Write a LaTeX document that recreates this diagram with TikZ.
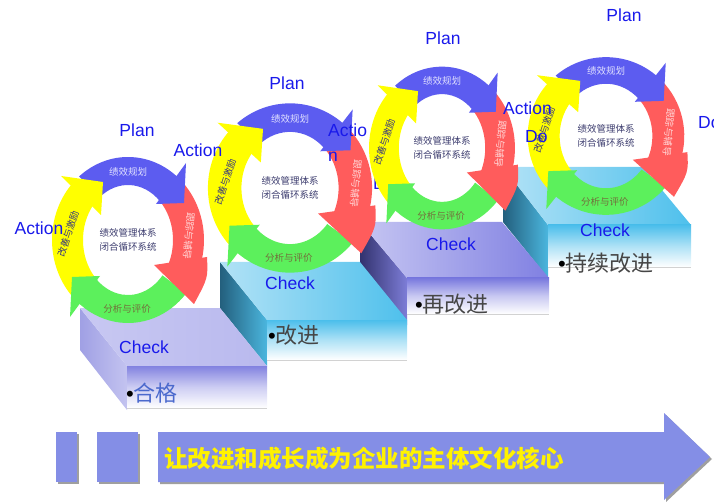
\documentclass[tikz,border=0pt]{standalone}
\usepackage{fontspec}
\setmainfont{Liberation Sans}
\newfontfamily\cjk{Noto Sans CJK SC}
\definecolor{cB}{RGB}{92,92,240}
\definecolor{cR}{RGB}{255,92,92}
\definecolor{cG}{RGB}{92,240,92}
\definecolor{cY}{RGB}{255,255,0}
\definecolor{lblue}{RGB}{25,25,235}
\definecolor{txB}{RGB}{225,225,255}
\definecolor{txR}{RGB}{255,215,215}
\definecolor{txG}{RGB}{115,110,60}
\definecolor{txY}{RGB}{55,55,125}
\definecolor{txC}{RGB}{60,60,110}
\definecolor{lavT}{RGB}{200,200,242}
\definecolor{lavT2}{RGB}{185,185,238}
\definecolor{lavF}{RGB}{130,130,224}
\definecolor{lavL1}{RGB}{160,160,228}
\definecolor{lavL2}{RGB}{195,195,240}
\definecolor{cyT1}{RGB}{178,226,246}
\definecolor{cyT2}{RGB}{78,192,236}
\definecolor{cyL1}{RGB}{35,95,125}
\definecolor{cyL2}{RGB}{75,182,222}
\definecolor{cyF}{RGB}{75,190,235}
\definecolor{puT1}{RGB}{198,198,242}
\definecolor{puT2}{RGB}{128,128,226}
\definecolor{puL1}{RGB}{50,50,110}
\definecolor{puL2}{RGB}{125,125,215}
\definecolor{puF}{RGB}{120,120,222}
\definecolor{arrC}{RGB}{132,142,230}
\definecolor{stepTx}{RGB}{70,70,70}
\definecolor{hegeTx}{RGB}{75,105,205}
\tikzset{
  lbl/.style={text=lblue, font=\fontsize{17.5}{20}\selectfont, inner sep=0pt},
  ringtx/.style={font=\cjk\fontsize{9.5}{12}\selectfont, inner sep=0pt},
  ctext/.style={font=\cjk\fontsize{9.5}{14}\selectfont, align=center, inner sep=0pt, text=txC},
  steptx/.style={font=\fontsize{22}{24}\selectfont, inner sep=0pt, anchor=west, text=stepTx},
}
\newcommand\pdcacycle[5]{%
\begin{scope}[shift={(#1,-#2)},xscale=#3,yscale=#4]
  % bodies
  \fill[cB] (130:76pt and 83pt) arc[start angle=130,end angle=48,x radius=76pt,y radius=83pt]
     -- (45:45pt and 55pt) arc[start angle=45,end angle=130,x radius=45pt,y radius=55pt] -- cycle;
  \fill[cR] (45:76pt and 83pt) arc[start angle=45,end angle=-18,x radius=76pt,y radius=83pt]
     -- (-28:45pt and 55pt) arc[start angle=-28,end angle=45,x radius=45pt,y radius=55pt] -- cycle;
  \fill[cG] (-40:76pt and 83pt) arc[start angle=-40,end angle=-132,x radius=76pt,y radius=83pt]
     -- (-135:45pt and 55pt) arc[start angle=-135,end angle=-40,x radius=45pt,y radius=55pt] -- cycle;
  \fill[cY] (222:76pt and 83pt) arc[start angle=222,end angle=135,x radius=76pt,y radius=83pt]
     -- (140:45pt and 55pt) arc[start angle=140,end angle=222,x radius=45pt,y radius=55pt] -- cycle;
  % heads
  \fill[cB] (58,77) -- (56,37) -- (28,36) -- cycle;
  \fill[cR] (26,-25) -- (79,-17) .. controls (80,-38) .. (66,-64) -- cycle;
  \fill[cG] (-58,-77) -- (-56,-37) -- (-28,-36) -- cycle;
  \fill[cY] (-67,64) -- (-25,58) -- (-27,25) -- cycle;
  % labels
  \node[ringtx, text=txB] (#5-p) at (0,68) {绩效规划};
  \node[ringtx, text=txR, rotate=-95] (#5-d) at (61,4) {跟踪与辅导};
  \node[ringtx, text=txG] (#5-c) at (-1,-69) {分析与评价};
  \node[ringtx, text=txY, rotate=72] (#5-a) at (-60,6) {改善与激励};
  \node[ctext] (#5-m) at (0,0) {绩效管理体系\\闭合循环系统};
\end{scope}}
\begin{document}
\begin{tikzpicture}[x=1pt,y=1pt]
\useasboundingbox (0,0) rectangle (714,-502);
% ---------- step 4 ----------
\shade[left color=cyL1, right color=cyL2] (503,-167) -- (548,-225) -- (548,-278) -- (503,-222) -- cycle;
\shade[left color=cyT1, right color=cyT2] (503,-167) -- (643,-167) -- (691,-225) -- (548,-225) -- cycle;
\shade[top color=cyF, bottom color=white, middle color=cyF!45] (548,-225) rectangle (691,-267);
\draw[gray!35, line width=0.6pt] (548,-267) -- (691,-267);
% ---------- step 3 ----------
\shade[left color=puL1, right color=puL2] (360,-222) -- (407,-278) -- (407,-325) -- (360,-268) -- cycle;
\shade[left color=puT1, right color=puT2] (360,-222) -- (502,-222) -- (549,-278) -- (407,-278) -- cycle;
\shade[top color=puF, bottom color=white, middle color=puF!40] (407,-278) rectangle (549,-314);
\draw[gray!35, line width=0.6pt] (407,-314) -- (549,-314);
% ---------- step 2 ----------
\shade[left color=cyL1, right color=cyL2] (220,-262) -- (267,-320) -- (267,-366) -- (220,-308) -- cycle;
\shade[left color=cyT1, right color=cyT2] (220,-262) -- (360,-262) -- (407,-320) -- (267,-320) -- cycle;
\shade[top color=cyF, bottom color=white, middle color=cyF!45] (267,-320) rectangle (407,-360);
\draw[gray!35, line width=0.6pt] (267,-360) -- (407,-360);
% ---------- step 1 ----------
\shade[left color=lavL1, right color=lavL2] (80,-308) -- (127,-366) -- (127,-410) -- (80,-350) -- cycle;
\shade[left color=lavT, right color=lavT2] (80,-308) -- (220,-308) -- (267,-366) -- (127,-366) -- cycle;
\shade[top color=lavF, bottom color=white, middle color=lavF!40] (127,-366) rectangle (267,-408);
\draw[gray!35, line width=0.6pt] (127,-408) -- (267,-408);
% step texts
\node[lbl] (chk1) at (144,-347) {Check};
\node[lbl] (chk2) at (290,-283) {Check};
\node[lbl] (chk3) at (451,-244) {Check};
\node[lbl] (chk4) at (605,-230) {Check};
\node[steptx, text=hegeTx] (s1) at (126,-393) {{\color{black}•}{\cjk 合格}};
\node[steptx] (s2) at (268,-335) {{\color{black}•}{\cjk 改进}};
\node[steptx] (s3) at (415,-304) {{\color{black}•}{\cjk 再改进}};
\node[steptx] (s4) at (558,-263) {{\color{black}•}{\cjk 持续改进}};
% ---------- bottom arrow ----------
\fill[gray!75] (58,-434) rectangle (79,-484);
\fill[gray!75] (99,-434) rectangle (140,-484);
\fill[gray!75] (160,-434) -- (666,-434) -- (666,-415) -- (712,-459) -- (666,-502) -- (666,-484) -- (160,-484) -- cycle;
\fill[arrC] (56,-432) rectangle (77,-482);
\fill[arrC] (97,-432) rectangle (138,-482);
\fill[arrC] (158,-432) -- (664,-432) -- (664,-413) -- (710,-457) -- (664,-500) -- (664,-482) -- (158,-482) -- cycle;
\node[anchor=west, inner sep=0pt, text=yellow, font=\cjk\bfseries\fontsize{23.5}{26}\selectfont] (motto) at (164,-459) {让改进和成长成为企业的主体文化核心};
% ---------- cycles ----------
\pdcacycle{128}{240}{1}{1}{k1}
\pdcacycle{290}{188}{1.08}{1.02}{k2}
\node[lbl, anchor=west] (do2) at (373,-184) {Do};
\pdcacycle{442}{148}{0.96}{0.98}{k3}
\pdcacycle{606}{136}{1.03}{0.95}{k4}
% ---------- PDCA labels ----------
\node[lbl] (plan1) at (137,-130) {Plan};
\node[lbl] (act1) at (39,-228) {Action};
\node[lbl] (act1b) at (198,-150) {Action};
\node[lbl] (plan2) at (287,-83) {Plan};
\node[lbl, anchor=west] (act2a) at (328,-130) {Actio};
\node[lbl, anchor=west] (act2b) at (328,-157) {n};
\node[lbl] (plan3) at (443,-38) {Plan};
\node[lbl, anchor=west] (act3) at (503,-108) {Action};
\node[lbl, anchor=west] (do3) at (525,-137) {Do};
\node[lbl] (plan4) at (624,-15) {Plan};
\node[lbl, anchor=west] (do4) at (698,-123) {Do};
\end{tikzpicture}
\end{document}
